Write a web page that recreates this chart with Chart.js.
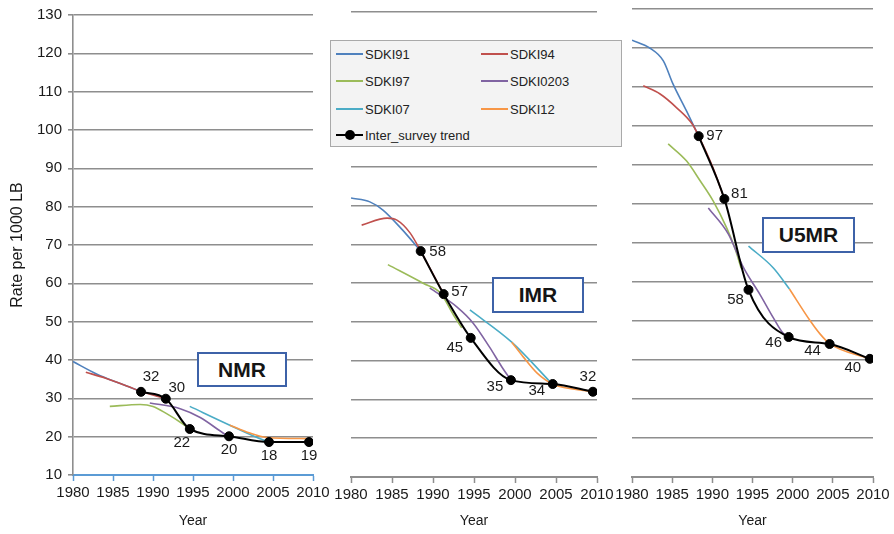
<!DOCTYPE html>
<html>
<head>
<meta charset="utf-8">
<script src="https://cdn.jsdelivr.net/npm/chart.js@4.4.0/dist/chart.umd.min.js"></script>
<style>
  body { margin: 0; background: #fff; }
  #wrap { position: relative; width: 894px; height: 534px; overflow: hidden; background: #fff;
          font-family: 'Liberation Sans', Arial, sans-serif; }
  canvas { position: absolute; top: 0; }
  .legend { position: absolute; left: 330px; top: 40px; width: 292px; height: 107px; box-sizing: border-box;
            background: #f3f3f3; border: 1.5px solid #a9a9a9; font-size: 13px; color: #222; }
  .legend .item { position: absolute; height: 16px; display: flex; align-items: center; }
  .legend .swatch { position: relative; width: 27px; height: 2px; margin-right: 2px; }
  .legend .dot { position: absolute; left: 9px; top: -4px; width: 10px; height: 10px; border-radius: 50%; background: #000; }
  .tag { position: absolute; box-sizing: border-box; border: 2px solid #3d62a8; background: #fff; color: #151515;
         font-weight: bold; font-size: 21px; display: flex; align-items: center; justify-content: center; }
</style>
</head>
<body>
<div id="wrap">
  <canvas id="nmr" width="340" height="534" style="left:0px"></canvas>
  <canvas id="imr" width="294" height="534" style="left:327px"></canvas>
  <canvas id="u5mr" width="286" height="534" style="left:608px"></canvas>
  <div class="legend" id="legend"></div>
  <div class="tag" style="left:197px;top:352px;width:90px;height:35px">NMR</div>
  <div class="tag" style="left:492px;top:277px;width:92px;height:36px">IMR</div>
  <div class="tag" style="left:762px;top:217px;width:93px;height:36px">U5MR</div>
</div>
<script>
const seriesNames = ['SDKI91', 'SDKI94', 'SDKI97', 'SDKI0203', 'SDKI07', 'SDKI12', 'Inter_survey trend']
const seriesColors = ['#4f81bd', '#c0504d', '#9bbb59', '#8064a2', '#4bacc6', '#f79646', '#000000']

// NMR  [year, rate]
const nmrSdki91 = [[1980, 39.6], [1983, 36.3], [1986, 33.8], [1988.5, 31.8]]
const nmrSdki94 = [[1981.6, 36.8], [1984, 35.3], [1987, 33], [1988.5, 31.8], [1991.5, 30]]
const nmrSdki97 = [[1984.6, 27.9], [1988.4, 28.4], [1990, 27.9], [1991.7, 26], [1993.6, 23.5], [1994.6, 22]]
const nmrSdki0203 = [[1989.6, 28.8], [1993.4, 27.3], [1995.9, 25], [1998.8, 20.9], [1999.5, 20]]
const nmrSdki07 = [[1994.6, 27.9], [1999.6, 23], [2003.8, 19.1], [2004.5, 18.6]]
const nmrSdki12 = [[1999.6, 23], [2002, 21], [2004.2, 19.8], [2009.5, 19.5]]
const nmrTrend = [[1988.5, 31.7], [1991.6, 29.9], [1994.6, 22], [1999.5, 20.1], [2004.5, 18.6], [2009.5, 18.6]]
const nmrLabels = ['32', '30', '22', '20', '18', '19']

// IMR
const imrSdki91 = [[1980, 82], [1982.3, 81], [1983.9, 78.9], [1986.3, 73.7], [1988.5, 68.3]]
const imrSdki94 = [[1981.3, 75], [1984.4, 76.8], [1985.6, 76.3], [1987.2, 73], [1988.5, 68.3], [1991.3, 57.2]]
const imrSdki97 = [[1984.5, 64.8], [1988.8, 60], [1990.9, 57.5], [1992.5, 51.8], [1993.5, 48.5]]
const imrSdki0203 = [[1989.6, 58.8], [1992.9, 53.9], [1994.9, 49.7], [1996.9, 43.5], [1998.4, 38.4], [1999.5, 35]]
const imrSdki07 = [[1994.5, 53.1], [1999.6, 44.8], [2004.4, 34.3]]
const imrSdki12 = [[1999.6, 44.8], [2001, 41], [2002.7, 36.8], [2004.6, 34], [2009.5, 32]]
const imrTrend = [[1988.5, 68.3], [1991.3, 57.2], [1994.6, 45.9], [1999.5, 35], [2004.6, 34], [2009.5, 32]]
const imrLabels = ['58', '57', '45', '35', '34', '32']

// U5MR
const u5Sdki91 = [[1980, 122], [1982.2, 120], [1983.9, 116.7], [1985.1, 110.8], [1986.8, 103.8], [1988.3, 97.4]]
const u5Sdki94 = [[1981.4, 110.3], [1983.5, 108.2], [1985.6, 104.6], [1987.5, 100.5], [1988.3, 97.4], [1990.1, 89.2], [1991.5, 81.3]]
const u5Sdki97 = [[1984.5, 95.4], [1986.8, 91], [1988.5, 85.9], [1990.1, 80.8], [1991.8, 73.8], [1992.8, 68.7], [1993.6, 63.5]]
const u5Sdki0203 = [[1989.5, 79], [1992, 72.3], [1993.9, 63.6], [1995.9, 56.9], [1997.6, 50.8], [1998.8, 46.9], [1999.5, 45.9]]
const u5Sdki07 = [[1994.5, 69.2], [1997.6, 63.6], [1999.6, 58.2]]
const u5Sdki12 = [[1999.6, 58.2], [2002.2, 50], [2003.4, 46.7], [2004.6, 44.2], [2009.6, 40.3]]
const u5Trend = [[1988.3, 97.4], [1991.5, 81.3], [1994.5, 58], [1999.5, 45.9], [2004.6, 44.1], [2009.6, 40.3]]
const u5Labels = ['97', '81', '58', '46', '44', '40']

const yearTicks = [1980, 1985, 1990, 1995, 2000, 2005, 2010]

Chart.defaults.font.family = "'Liberation Sans', Arial, sans-serif"
Chart.defaults.color = '#1a1a1a'

// writes the rounded values next to the black inter-survey points
const pointLabels = {
  id: 'pointLabels',
  afterDatasetsDraw(chart, args, opts) {
    const meta = chart.getDatasetMeta(6)
    const ctx = chart.ctx
    ctx.save()
    ctx.font = '15px "Liberation Sans", Arial, sans-serif'
    ctx.fillStyle = '#1a1a1a'
    ctx.textAlign = 'center'
    ctx.textBaseline = 'middle'
    meta.data.forEach((pt, i) => {
      ctx.fillText(opts.labels[i], pt.x + opts.offsets[i][0], pt.y + opts.offsets[i][1])
    })
    ctx.restore()
  },
}

function makePanel(id, series, labels, p) {
  const datasets = series.map((data, i) => ({
    label: seriesNames[i],
    data: data,
    borderColor: seriesColors[i],
    backgroundColor: seriesColors[i],
    borderWidth: i === 6 ? 2 : 1.6,
    pointRadius: i === 6 ? 4.5 : 0,
    pointBorderWidth: 1,
    pointHoverRadius: i === 6 ? 4.5 : 0,
    cubicInterpolationMode: 'monotone',
    order: 6 - i,
  }))
  const axisColor = p.axisColor
  return new Chart(document.getElementById(id), {
    type: 'line',
    data: { datasets },
    plugins: [pointLabels],
    options: {
      responsive: false,
      animation: false,
      devicePixelRatio: 1,
      layout: { padding: { left: p.padLeft, right: p.padRight, top: p.top, bottom: 0 } },
      scales: {
        x: {
          type: 'linear',
          min: 1980,
          max: 2010,
          afterBuildTicks: (s) => { s.ticks = yearTicks.map((v) => ({ value: v })) },
          afterFit: (s) => { s.height = 534 - p.bottom },
          ticks: { font: { size: 15 }, padding: 3, maxRotation: 0, autoSkip: false, callback: (v) => String(v) },
          grid: { display: true, drawOnChartArea: false, drawTicks: true, tickLength: 6, tickColor: axisColor, tickWidth: 1.5 },
          border: { display: true, color: axisColor, width: 2 },
          title: { display: true, text: 'Year', font: { size: 14 }, padding: { top: 0, bottom: 4 } },
        },
        y: {
          min: 10,
          max: 130,
          afterFit: (s) => { s.width = p.yWidth },
          ticks: { display: p.showY, stepSize: 10, font: { size: 15 }, padding: 6 },
          grid: {
            color: (c) => (c.tick && c.tick.value === 10 ? 'rgba(0,0,0,0)' : '#8e8e8e'),
            lineWidth: 1.6,
            drawTicks: p.showY,
            tickLength: 5,
            tickColor: '#8e8e8e',
          },
          border: { display: p.showY, color: '#8e8e8e', width: 1.6 },
          title: { display: p.showY, text: 'Rate per 1000 LB', font: { size: 16 }, padding: { top: 8, bottom: 0 } },
        },
      },
      plugins: {
        legend: { display: false },
        tooltip: { enabled: false },
        pointLabels: { labels: labels, offsets: p.labelOffsets },
      },
    },
  })
}

makePanel('nmr', [nmrSdki91, nmrSdki94, nmrSdki97, nmrSdki0203, nmrSdki07, nmrSdki12, nmrTrend], nmrLabels, {
  padLeft: 0, padRight: 27, top: 13, bottom: 475, yWidth: 73, showY: true, axisColor: '#5b9bd5',
  labelOffsets: [[10, -15], [11, -11], [-8, 14], [0, 14], [0, 14], [0, 14]],
})
makePanel('imr', [imrSdki91, imrSdki94, imrSdki97, imrSdki0203, imrSdki07, imrSdki12, imrTrend], imrLabels, {
  padLeft: 24, padRight: 24, top: 12, bottom: 477, yWidth: 0, showY: false, axisColor: '#8e8e8e',
  labelOffsets: [[17, 1], [16, -2], [-16, 10], [-16, 7], [-16, 7], [-5, -15]],
})
makePanel('u5mr', [u5Sdki91, u5Sdki94, u5Sdki97, u5Sdki0203, u5Sdki07, u5Sdki12, u5Trend], u5Labels, {
  padLeft: 24, padRight: 21, top: 9, bottom: 477, yWidth: 0, showY: false, axisColor: '#8e8e8e',
  labelOffsets: [[16, 0], [15, -5], [-13, 10], [-15, 6], [-17, 7], [-17, 9]],
})

// legend: two columns, trend entry alone on the last row
const legendEl = document.getElementById('legend')
const legendSlots = [[5, 5], [150, 5], [5, 32], [150, 32], [5, 60], [150, 60], [5, 86]]
seriesNames.forEach((name, i) => {
  const item = document.createElement('div')
  item.className = 'item'
  item.style.left = legendSlots[i][0] + 'px'
  item.style.top = legendSlots[i][1] + 'px'
  const sw = document.createElement('div')
  sw.className = 'swatch'
  sw.style.background = seriesColors[i]
  if (i === 6) {
    const dot = document.createElement('div')
    dot.className = 'dot'
    sw.appendChild(dot)
  }
  item.appendChild(sw)
  item.appendChild(document.createTextNode(name))
  legendEl.appendChild(item)
})
</script>
</body>
</html>
